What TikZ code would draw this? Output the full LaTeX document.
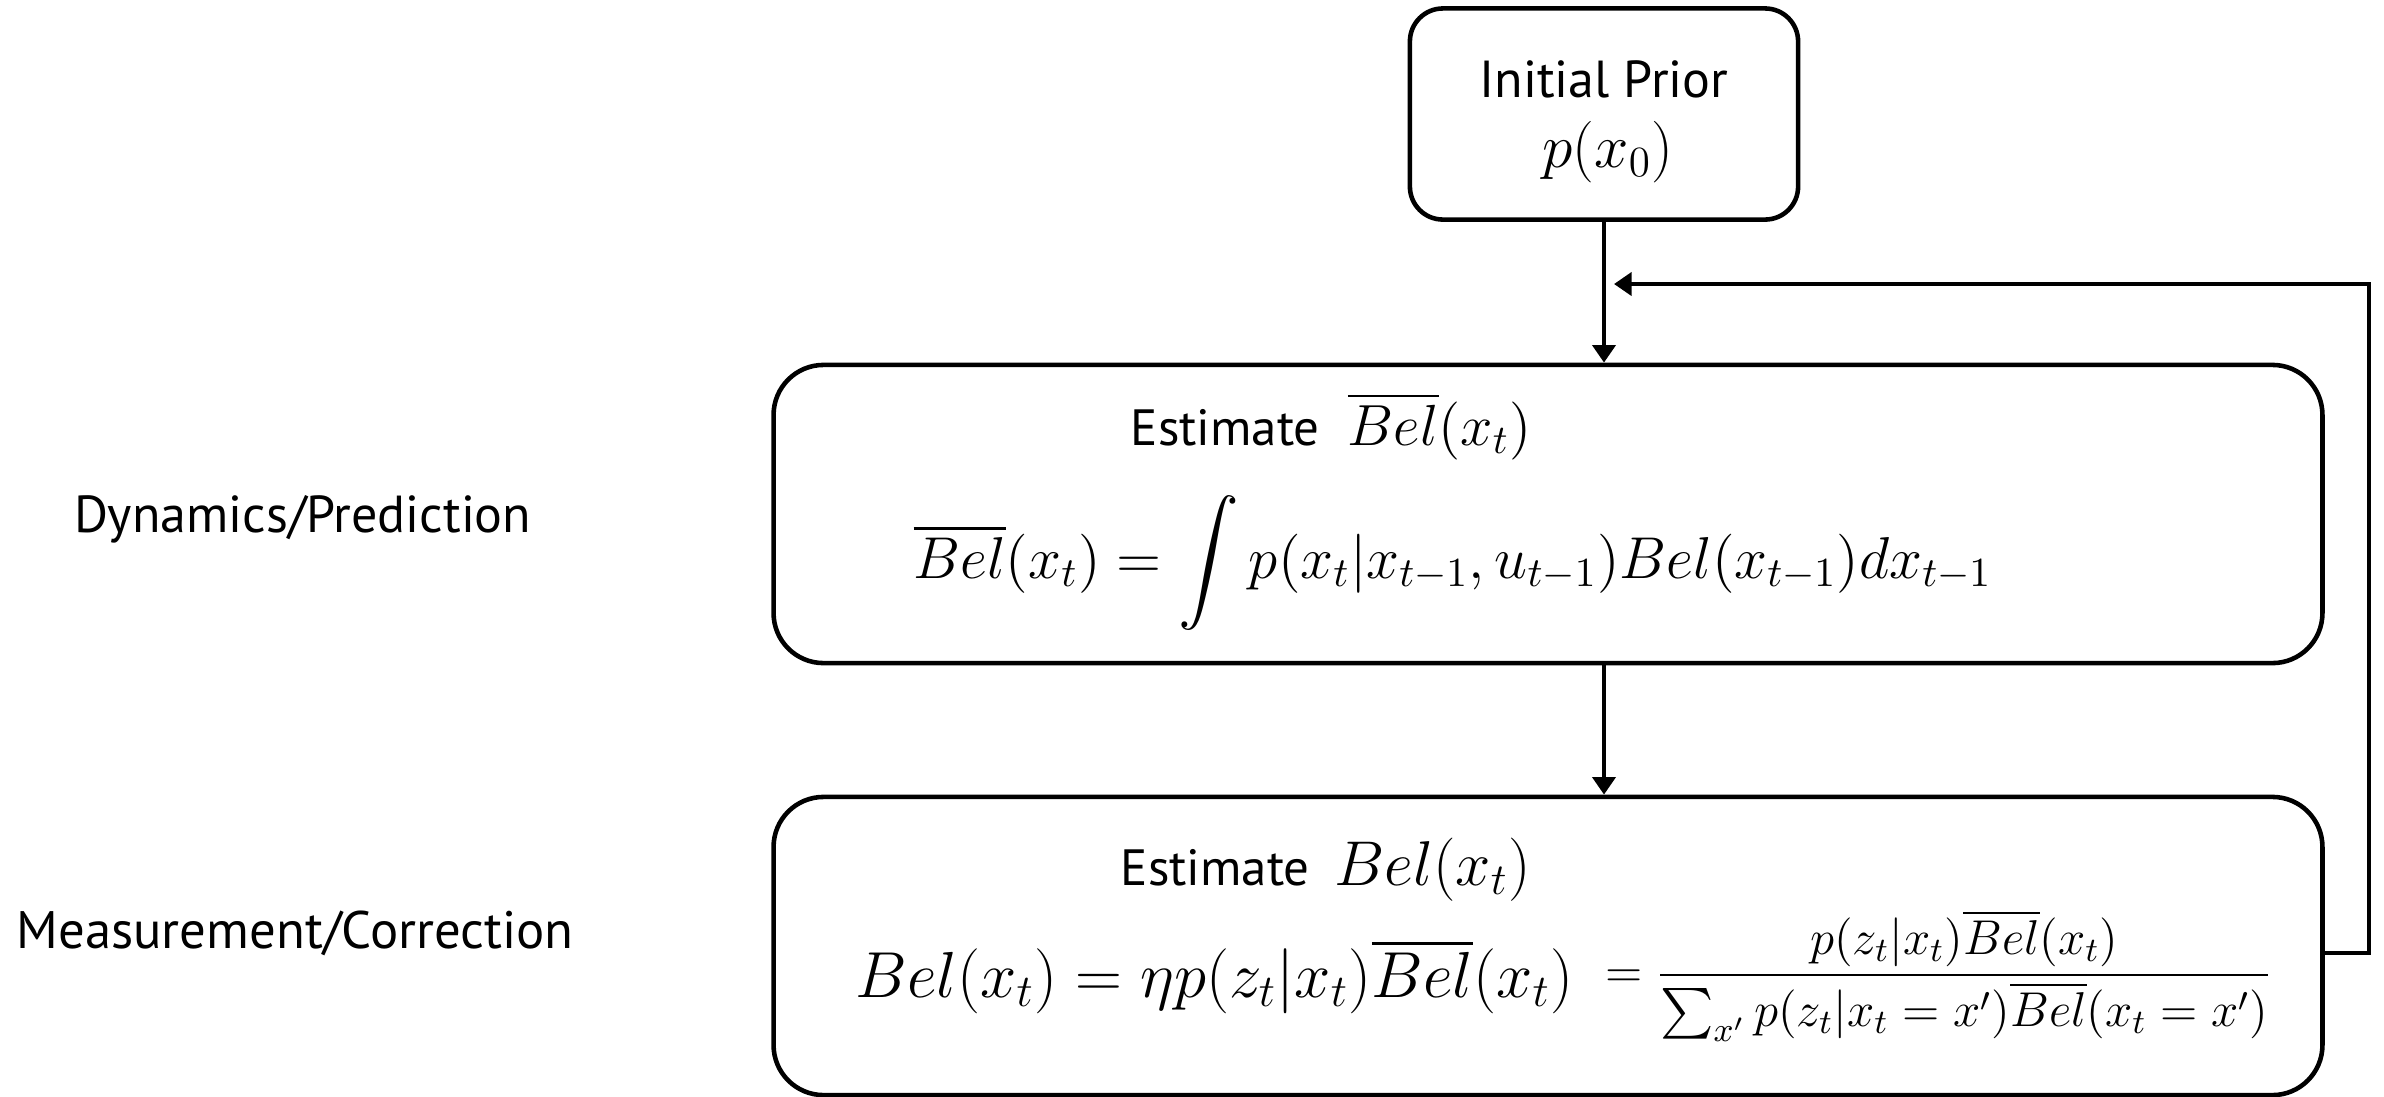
\RequirePackage{fix-cm}
\documentclass[tikz,border=0pt]{standalone}
\usepackage{amsmath}
\usepackage{fontspec}
\newfontfamily\labelfont{PT Sans}
\usetikzlibrary{arrows.meta,calc,positioning}

\begin{document}
\begin{tikzpicture}[x=0.01cm,y=-0.01cm,
    box/.style={draw,line width=1.3pt,rounded corners=0.5cm,
                minimum width=15.48cm,minimum height=2.98cm},
    lbl/.style={font=\labelfont\fontsize{14.8}{17}\selectfont,inner sep=0pt,anchor=base},
    eq/.style={inner sep=0pt,anchor=base west},
    arr/.style={-{Triangle[length=5pt,width=6.5pt]},line width=1.2pt}]
    \useasboundingbox (0,0) rectangle (2384,1096);
    \node[box,rounded corners=0.33cm,minimum width=3.88cm,minimum height=2.11cm] (prior) at (1604,114) {};
    \node[lbl] (priorname) at (1604,97) {Initial Prior};
    \node[eq,anchor=base] (priorpdf) at (1608,167) {\fontsize{17.5}{21}\selectfont$p(x_0)$};
    \node[box] (pred) at (1548,514) {};
    \node[eq] (predtitle) at (1130,445) {\labelfont\fontsize{14.5}{17}\selectfont Estimate\hspace{8pt}\fontsize{16.5}{20}\selectfont$\overline{Bel}(x_t)$};
    \node[eq] (predeq) at (913,578) {\fontsize{16.8}{20}\selectfont
          $\displaystyle\overline{Bel}(x_t)=\int p(x_t|x_{t-1},u_{t-1})Bel(x_{t-1})dx_{t-1}$};
    \node[box] (corr) at (1548,946) {};
    \node[eq] (corrtitle) at (1120,885) {\labelfont\fontsize{14.5}{17}\selectfont Estimate\hspace{7pt}\fontsize{18}{21}\selectfont$Bel(x_t)$};
    \node[eq] (correq) at (855,997) {\fontsize{18.5}{22}\selectfont
          $Bel(x_t)=\eta p(z_t|x_t)\overline{Bel}(x_t)$\hspace{9pt}\raisebox{2.8pt}{\fontsize{13.9}{16}\selectfont
          $=\dfrac{p(z_t|x_t)\overline{Bel}(x_t)}{\sum_{x'}p(z_t|x_t=x')\overline{Bel}(x_t=x')}$}};
    \node[lbl] (dyn) at (303,532) {Dynamics/Prediction};
    \node[lbl,font=\labelfont\fontsize{15}{17}\selectfont] (meas) at (295,948) {Measurement/Correction};
    \coordinate (loop) at (2369,284);
    \coordinate (back) at (1614,284);
    \draw[arr] (prior) -- (prior |- pred.north);
    \draw[arr] (pred.south -| prior) -- (corr.north -| prior);
    \draw[arr] ([yshift=-0.07cm]corr.east) -| (loop) -- (back);
\end{tikzpicture}
\end{document}
